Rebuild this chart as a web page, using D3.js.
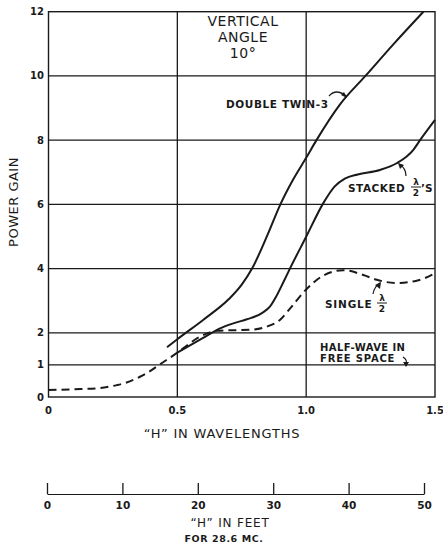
<!DOCTYPE html>
<html><head><meta charset="utf-8">
<script src="https://cdn.jsdelivr.net/npm/d3@7"></script>
<style>
html,body{margin:0;padding:0;background:#fff;}
svg text{font-family:"DejaVu Sans",sans-serif;fill:#1a1a1a;}
</style></head>
<body><svg id="c" width="443" height="548"></svg>
<script>
// ---- data ----
const xTicks = [0, 0.5, 1.0, 1.5];
const xTickLabels = ["0", "0.5", "1.0", "1.5"];
const yTicks = [0, 1, 2, 4, 6, 8, 10, 12];
const yTickLabels = ["0", "1", "2", "4", "6", "8", "10", "12"];
const feetTicks = [0, 10, 20, 30, 40, 50];

const doubleX = [0.46, 0.5, 0.6, 0.7, 0.75, 0.79, 0.85, 0.9, 0.95, 1.0, 1.04, 1.13, 1.23, 1.34, 1.455];
const doubleY = [1.55, 1.8, 2.4, 3.05, 3.5, 4.0, 5.05, 6.0, 6.78, 7.45, 8.0, 9.1, 10.0, 11.0, 12.0];

const stackedX = [0.5, 0.6, 0.666, 0.72, 0.77, 0.83, 0.86, 0.885, 0.91, 0.937, 1.0, 1.066, 1.11, 1.15, 1.2, 1.286, 1.351, 1.416, 1.442, 1.5];
const stackedY = [1.38, 1.84, 2.14, 2.3, 2.42, 2.62, 2.82, 3.15, 3.55, 4.0, 4.99, 6.03, 6.55, 6.8, 6.93, 7.07, 7.28, 7.7, 8.0, 8.63];

const singleX = [0, 0.1, 0.2, 0.265, 0.303, 0.355, 0.381, 0.433, 0.5, 0.588, 0.653, 0.72, 0.795, 0.85, 0.898, 0.937, 1.0, 1.066, 1.144, 1.222, 1.274, 1.351, 1.429, 1.5];
const singleY = [0.22, 0.24, 0.28, 0.37, 0.45, 0.63, 0.74, 1.02, 1.38, 1.88, 2.06, 2.08, 2.1, 2.2, 2.4, 2.75, 3.35, 3.78, 3.95, 3.8, 3.65, 3.55, 3.62, 3.85];

// ---- layout ----
const svg = d3.select("#c");
const ink = "#1a1a1a";
const x = d3.scaleLinear().domain([0, 1.5]).range([48.5, 435]);
const y = d3.scaleLinear().domain([0, 12]).range([397, 11.7]);
const feet = d3.scaleLinear().domain([0, 50]).range([47, 424]);

// grid
const g = svg.append("g");
g.selectAll("line.h").data(yTicks.filter(v => v > 0 && v < 12)).join("line")
  .attr("x1", x(0)).attr("x2", x(1.5)).attr("y1", d => y(d)).attr("y2", d => y(d))
  .attr("stroke", ink).attr("stroke-width", 1.3);
g.selectAll("line.v").data(xTicks.filter(v => v > 0 && v < 1.5)).join("line")
  .attr("y1", y(0)).attr("y2", y(12)).attr("x1", d => x(d)).attr("x2", d => x(d))
  .attr("stroke", ink).attr("stroke-width", 1.3);
g.append("rect").attr("x", x(0)).attr("y", y(12)).attr("width", x(1.5) - x(0)).attr("height", y(0) - y(12))
  .attr("fill", "none").attr("stroke", ink).attr("stroke-width", 1.4);

// tick labels
svg.selectAll("text.yt").data(yTicks).join("text")
  .attr("x", 44).attr("y", d => y(d)).attr("dy", "0.35em").attr("text-anchor", "end")
  .attr("font-size", 10).attr("font-weight", "bold").text((d, i) => yTickLabels[i]);
svg.selectAll("text.xt").data(xTicks).join("text")
  .attr("x", d => x(d)).attr("y", 410).attr("dy", "0.35em").attr("text-anchor", "middle")
  .attr("font-size", 10).attr("font-weight", "bold").text((d, i) => xTickLabels[i]);

// axis titles
svg.append("text").attr("transform", "translate(18,202) rotate(-90)").attr("text-anchor", "middle")
  .attr("font-size", 13).attr("letter-spacing", 0.5).text("POWER GAIN");
svg.append("text").attr("x", 222).attr("y", 438).attr("text-anchor", "middle")
  .attr("font-size", 13).attr("letter-spacing", 0.8).text("\u201CH\u201D IN WAVELENGTHS");

// curves
const line = d3.line().x(d => x(d[0])).y(d => y(d[1])).curve(d3.curveMonotoneX);
svg.append("path").datum(d3.zip(doubleX, doubleY)).attr("d", line)
  .attr("fill", "none").attr("stroke", ink).attr("stroke-width", 2);
svg.append("path").datum(d3.zip(stackedX, stackedY)).attr("d", line)
  .attr("fill", "none").attr("stroke", ink).attr("stroke-width", 2);
svg.append("path").datum(d3.zip(singleX, singleY)).attr("d", line)
  .attr("fill", "none").attr("stroke", ink).attr("stroke-width", 2).attr("stroke-dasharray", "8,5");

// annotations
const ann = svg.append("g");
["VERTICAL", "ANGLE", "10\u00B0"].forEach((t, i) => {
  ann.append("text").attr("x", 243).attr("y", 26 + i * 16).attr("text-anchor", "middle")
    .attr("font-size", 14).attr("letter-spacing", 0.5).text(t);
});
ann.append("text").attr("x", 226).attr("y", 108).attr("font-size", 10.5).attr("font-weight", "bold")
  .attr("letter-spacing", 0.6).text("DOUBLE TWIN-3");
ann.append("path").attr("d", "M329,96 Q336,88 346,96").attr("fill", "none").attr("stroke", ink).attr("stroke-width", 1.2);
ann.append("path").attr("d", "M341,95 L347,98 L344,92 Z").attr("fill", ink);

ann.append("text").attr("x", 348).attr("y", 192).attr("font-size", 10.5).attr("font-weight", "bold")
  .attr("letter-spacing", 0.5).text("STACKED");
ann.append("text").attr("x", 416).attr("y", 185).attr("font-size", 9).attr("font-weight", "bold").attr("text-anchor", "middle").text("\u03BB");
ann.append("line").attr("x1", 411).attr("x2", 421).attr("y1", 187).attr("y2", 187).attr("stroke", ink).attr("stroke-width", 1);
ann.append("text").attr("x", 416).attr("y", 196).attr("font-size", 9).attr("font-weight", "bold").attr("text-anchor", "middle").text("2");
ann.append("text").attr("x", 421).attr("y", 192).attr("font-size", 10.5).attr("font-weight", "bold").text("\u2019S");
ann.append("path").attr("d", "M406,176 Q406,168 399,164").attr("fill", "none").attr("stroke", ink).attr("stroke-width", 1.2);
ann.append("path").attr("d", "M398,163 L404,165 L400,169 Z").attr("fill", ink);

ann.append("text").attr("x", 325).attr("y", 308).attr("font-size", 10.5).attr("font-weight", "bold")
  .attr("letter-spacing", 0.8).text("SINGLE");
ann.append("text").attr("x", 382).attr("y", 301).attr("font-size", 9).attr("font-weight", "bold").attr("text-anchor", "middle").text("\u03BB");
ann.append("line").attr("x1", 377).attr("x2", 387).attr("y1", 303).attr("y2", 303).attr("stroke", ink).attr("stroke-width", 1);
ann.append("text").attr("x", 382).attr("y", 312).attr("font-size", 9).attr("font-weight", "bold").attr("text-anchor", "middle").text("2");
ann.append("path").attr("d", "M373,294 Q374,287 380,283").attr("fill", "none").attr("stroke", ink).attr("stroke-width", 1.2);
ann.append("path").attr("d", "M381,282 L380,289 L375,285 Z").attr("fill", ink);

ann.append("text").attr("x", 320).attr("y", 351).attr("font-size", 10).attr("font-weight", "bold")
  .attr("letter-spacing", 0.4).text("HALF-WAVE IN");
ann.append("text").attr("x", 320).attr("y", 362).attr("font-size", 10).attr("font-weight", "bold")
  .attr("letter-spacing", 0.8).text("FREE SPACE");
ann.append("path").attr("d", "M403,357 Q408,360 406,365").attr("fill", "none").attr("stroke", ink).attr("stroke-width", 1.2);
ann.append("path").attr("d", "M403,362 L406,367 L409,362 Z").attr("fill", ink);

// feet axis
const fa = svg.append("g").attr("transform", "translate(0,494)")
  .call(d3.axisBottom(feet).tickValues(feetTicks).tickSizeInner(-11).tickSizeOuter(0).tickPadding(8));
fa.select(".domain").attr("stroke", ink).attr("stroke-width", 1.2);
fa.selectAll(".tick line").attr("stroke", ink).attr("stroke-width", 1.3);
fa.selectAll(".tick text").attr("font-family", "DejaVu Sans").attr("font-size", 10.5).attr("font-weight", "bold").attr("fill", ink);
svg.append("text").attr("x", 230).attr("y", 527).attr("text-anchor", "middle")
  .attr("font-size", 12).attr("letter-spacing", 0.8).text("\u201CH\u201D IN FEET");
svg.append("text").attr("x", 224).attr("y", 542).attr("text-anchor", "middle")
  .attr("font-size", 9.5).attr("font-weight", "bold").attr("letter-spacing", 0.6).text("FOR 28.6 MC.");
</script></body></html>
